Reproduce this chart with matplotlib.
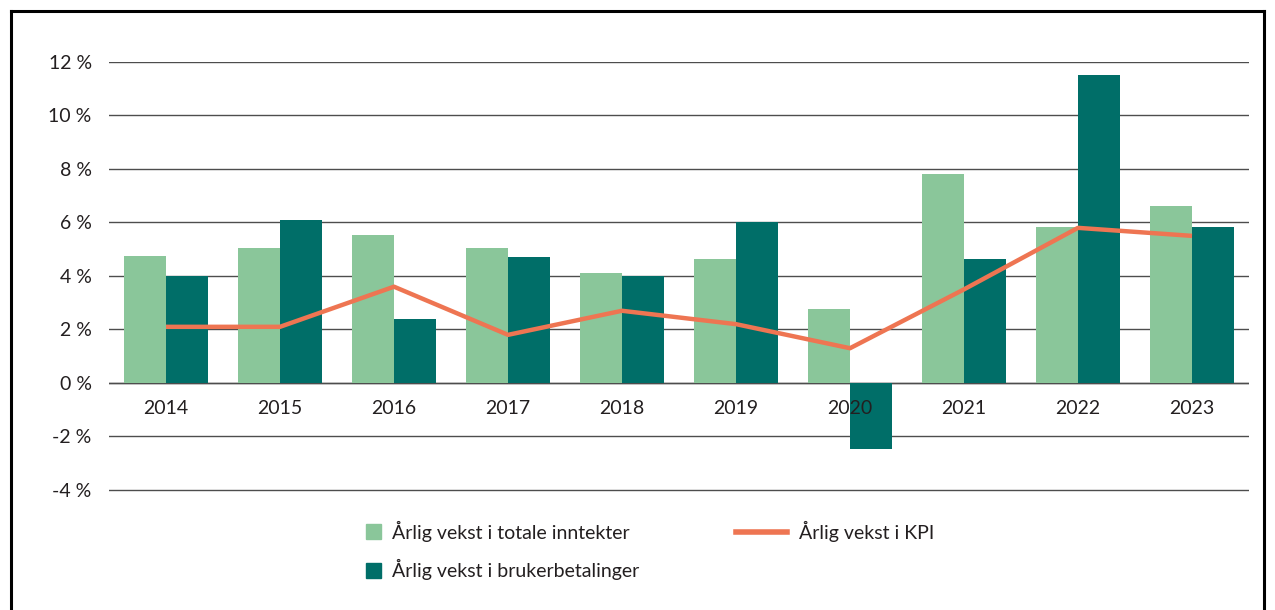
import numpy as np
import matplotlib.pyplot as plt
from matplotlib.lines import Line2D
from matplotlib.patches import Patch
import matplotlib.transforms as mtransforms

plt.rcParams['font.family'] = ['Lato', 'DejaVu Sans']

years = ['2014', '2015', '2016', '2017', '2018', '2019', '2020', '2021', '2022', '2023']
totale = [4.75, 5.05, 5.55, 5.05, 4.1, 4.65, 2.75, 7.8, 5.85, 6.6]
bruker = [4.0, 6.1, 2.4, 4.7, 4.0, 6.0, -2.45, 4.65, 11.5, 5.85]
kpi = [2.1, 2.1, 3.6, 1.8, 2.7, 2.2, 1.3, 3.5, 5.8, 5.5]

c_light = '#8AC69A'
c_dark = '#006E68'
c_kpi = '#EE7552'
c_grid = '#4d4d4d'
c_text = '#231f20'
fs = 14

fig = plt.figure(figsize=(12.75, 6.1), dpi=100)
# y range padded a little so the -4 % gridline is not clipped
ax = fig.add_axes([109/1275, 1 - 492/610, 1140/1275, 430/610])

x = np.arange(len(years))
w = 0.37
ax.bar(x - w/2, totale, w, color=c_light, zorder=2)
ax.bar(x + w/2, bruker, w, color=c_dark, zorder=2)
ax.plot(x, kpi, color=c_kpi, lw=3.2, zorder=3, solid_capstyle='butt')

ax.set_xlim(-0.5, len(years) - 0.5)
ax.set_ylim(-4.075, 12)
ax.set_yticks(np.arange(-4, 13, 2))
ax.set_yticklabels([f'{v} %' for v in range(-4, 13, 2)])
ax.yaxis.grid(True, color=c_grid, lw=1.0, zorder=0)
ax.set_axisbelow(True)

for s in ['top', 'right', 'left', 'bottom']:
    ax.spines[s].set_visible(False)
ax.axhline(0, color=c_grid, lw=1.0, zorder=1)

ax.set_xticks([])
ax.tick_params(axis='both', length=0, labelsize=fs, colors=c_text)
ax.tick_params(axis='y', pad=12.5)

# year labels just under the zero line, on top of the bars
off = mtransforms.offset_copy(ax.transData, fig=fig, x=0, y=-12, units='points')
for xi, yr in zip(x, years):
    ax.text(xi, 0, yr, transform=off, ha='center', va='top', fontsize=fs,
            color=c_text, zorder=5)

bar_handles = [Patch(color=c_light, label='Årlig vekst i totale inntekter'),
               Patch(color=c_dark, label='Årlig vekst i brukerbetalinger')]
leg1 = fig.legend(handles=bar_handles, frameon=False, loc='upper left',
                  bbox_to_anchor=(348/1275, 1 - 503/610), fontsize=fs,
                  handlelength=0.82, handleheight=0.82, labelspacing=0.89,
                  handletextpad=0.55, labelcolor=c_text)
line_handles = [Line2D([], [], color=c_kpi, lw=4, label='Årlig vekst i KPI')]
leg2 = fig.legend(handles=line_handles, frameon=False, loc='upper left',
                  bbox_to_anchor=(718/1275, 1 - 503/610), fontsize=fs,
                  handlelength=2.67, handletextpad=0.62, labelcolor=c_text)

# frame around the figure
fig.add_artist(Line2D([11/1275, 11/1275], [0, 1 - 11/610], color='black', lw=2.2))
fig.add_artist(Line2D([11/1275, 1264/1275], [1 - 11/610, 1 - 11/610], color='black', lw=2.2))
fig.add_artist(Line2D([1264/1275, 1264/1275], [0, 1 - 11/610], color='black', lw=2.2))

fig.savefig('out.png', dpi=100)
